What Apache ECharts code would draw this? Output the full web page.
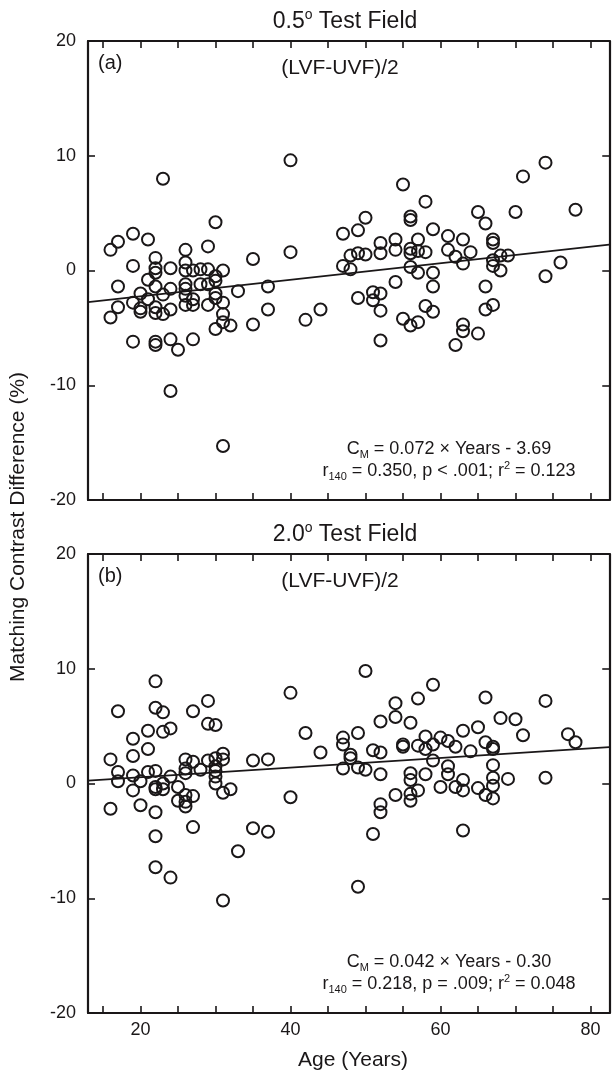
<!DOCTYPE html>
<html>
<head>
<meta charset="utf-8">
<script src="https://cdn.jsdelivr.net/npm/echarts@6/dist/echarts.min.js"></script>
<style>
html,body{margin:0;padding:0;background:#fff;}
#chart{width:612px;height:1074px;}
</style>
</head>
<body>
<div id="chart"></div>
<script>
// ---- Panel (a): 0.5 deg test field ----
const ageA = [23,40,30,16,17,19,21,19,22,22,22,21,24,26,26,26,27,28,29,29,30,30,31,35,40,37,33,17,
  55,58,50,56,56,47,49,59,61,63,65,66,67,67,70,71,74,78,76,74,52,52,54,54,48,49,50,47,48,56,56,57,57,58,56,57,59,59,54,61,62,63,64,67,67,68,69,68,66,66,67,63,63,65,62,58,59,55,56,57,52,51,51,52,49,52,44,42,
  16,17,19,19,20,20,20,21,22,22,22,22,22,23,23,24,24,24,24,25,26,26,26,26,27,27,27,28,29,29,30,30,30,31,31,31,31,32,35,37];
const valA = [8.0,9.6,4.2,1.8,2.5,3.2,2.7,0.4,1.1,0.2,-0.2,-0.8,0.2,1.8,0.7,0,0,0.1,2.1,0.1,-0.5,-0.9,0,1.0,1.6,-1.4,-1.8,-1.4,
  7.5,6.0,4.6,4.7,4.4,3.2,3.5,3.6,3.0,2.7,5.1,4.1,2.7,2.4,5.1,8.2,9.4,5.3,0.7,-0.5,2.4,1.5,2.7,1.8,1.3,1.5,1.4,0.4,0.1,1.9,1.5,2.7,1.7,1.6,0.3,-0.2,-0.2,-1.4,-1.0,1.8,1.2,0.6,1.6,0.9,0.4,1.3,1.3,0.0,-1.4,-3.4,-3.0,-4.7,-5.3,-5.5,-6.5,-3.1,-3.6,-4.2,-4.8,-4.5,-3.5,-1.9,-2.6,-2.0,-2.4,-6.1,-3.4,-4.3,
  -4.1,-3.2,-2.8,-6.2,-2.0,-3.3,-3.6,-2.5,-1.4,-3.2,-3.7,-6.2,-6.5,-2.1,-3.8,-1.6,-3.4,-6.0,-10.5,-6.9,-1.6,-2.2,-3.0,-1.2,-2.5,-3.0,-6.0,-1.2,-1.2,-3.0,-2.0,-2.4,-5.1,-2.8,-3.8,-4.5,-15.3,-4.8,-4.7,-3.4];
// regression line CM = 0.072*Years - 3.69 (end points at axis limits)
const fitA = [[13,-2.754],[82.5,2.25]];

// ---- Panel (b): 2.0 deg test field ----
const ageB = [16,16,17,17,17,19,19,19,19,20,20,21,21,21,22,22,22,22,22,22,22,22,23,23,23,23,24,24,24,25,25,26,26,26,26,26,26,27,27,27,27,28,29,29,29,30,30,30,30,30,30,31,31,31,31,32,33,35,35,37,37,40,40,42,44,
  47,47,47,48,48,49,49,49,50,50,51,51,52,52,52,52,52,54,54,54,55,55,56,56,56,56,56,57,57,57,58,58,58,59,59,59,60,60,61,61,61,62,62,63,63,63,63,64,65,65,66,66,66,67,67,67,67,67,67,68,69,70,71,74,74,77,78];
const valB = [2.1,-2.2,6.3,1.0,0.2,3.9,2.4,0.7,-0.6,-1.9,0.2,4.6,3.0,1.0,8.9,6.6,1.1,-0.3,-0.5,-2.5,-4.6,-7.3,6.2,4.5,0.0,-0.5,4.8,0.6,-8.2,-1.5,-0.3,2.1,1.3,0.9,-1.0,-1.6,-2.0,6.3,1.9,-1.1,-3.8,1.2,7.2,5.2,2.0,5.1,2.2,1.5,1.1,0.6,0,2.6,2.1,-0.8,-10.2,-0.5,-5.9,2.0,-3.9,2.1,-4.2,7.9,-1.2,4.4,2.7,
  4.0,3.4,1.3,2.5,2.2,4.4,1.4,-9.0,9.8,1.2,2.9,-4.4,5.4,2.7,0.8,-1.8,-2.5,7.0,5.8,-1.0,3.2,3.4,5.3,0.9,0.3,-0.9,-1.5,7.4,3.3,-0.6,4.1,3.0,0.8,8.6,3.4,2.0,4.0,-0.3,3.7,1.5,0.8,3.2,-0.3,4.6,0.3,-0.6,-4.1,2.8,4.9,-0.4,7.5,3.6,-1.0,3.2,3.0,1.6,0.5,-0.2,-1.3,5.7,0.4,5.6,4.2,7.2,0.5,4.3,3.6];
// regression line CM = 0.042*Years - 0.30
const fitB = [[13,0.246],[82.5,3.165]];

const xTickValues = [15,20,25,30,35,40,45,50,55,60,65,70,75,80];
const xLabelValues = [20,40,60,80];
const yMin = -20, yMax = 20, yStep = 10;
const xMin = 13, xMax = 82.5;

const INK = '#1a1718';
const FONT = 'Liberation Sans, Arial, Helvetica, sans-serif';

const zip = (a, b) => a.map((v, i) => [v, b[i]]);

const gridLeft = 88, gridWidth = 521.25, gridH = 459;
const grids = [
  {left: gridLeft, top: 41, width: gridWidth, height: gridH},
  {left: gridLeft, top: 554, width: gridWidth, height: gridH}
];

function xAxes(gi, showLabels) {
  const base = {
    type: 'value', gridIndex: gi, min: xMin, max: xMax,
    splitLine: {show: false},
    axisLine: {show: true, onZero: false, lineStyle: {color: INK, width: 2.2}},
    axisTick: {show: true, inside: true, length: 7, customValues: xTickValues, lineStyle: {color: INK, width: 1.6}},
  };
  return [
    Object.assign({}, base, {position: 'bottom',
      axisLabel: showLabels ? {show: true, customValues: xLabelValues, fontSize: 18, color: INK, fontFamily: FONT, margin: 8} : {show: false}}),
    Object.assign({}, base, {position: 'top', axisLabel: {show: false}})
  ];
}
function yAxes(gi) {
  const base = {
    type: 'value', gridIndex: gi, min: yMin, max: yMax, interval: yStep,
    splitLine: {show: false},
    axisLine: {show: true, onZero: false, lineStyle: {color: INK, width: 2.2}},
    axisTick: {show: true, inside: true, length: 7, lineStyle: {color: INK, width: 1.6}},
  };
  return [
    Object.assign({}, base, {position: 'left', axisLabel: {show: true, fontSize: 18, color: INK, fontFamily: FONT, margin: 12}}),
    Object.assign({}, base, {position: 'right', axisLabel: {show: false}})
  ];
}

const scatterStyle = {color: 'rgba(255,255,255,0)', borderColor: INK, borderWidth: 2, opacity: 1};

function scatter(xi, yi, data) {
  return {type: 'scatter', xAxisIndex: xi, yAxisIndex: yi, data: data, symbol: 'circle', symbolSize: 12,
    itemStyle: scatterStyle, silent: true, z: 3};
}
function fitLine(xi, yi, data) {
  return {type: 'line', xAxisIndex: xi, yAxisIndex: yi, data: data, showSymbol: false, silent: true,
    lineStyle: {color: INK, width: 1.8}, z: 2};
}

const richMain = {
  n: {fontSize: 18, fontFamily: FONT, color: INK, lineHeight: 22, verticalAlign: 'middle'},
  sub: {fontSize: 11, fontFamily: FONT, color: INK, lineHeight: 11, verticalAlign: 'bottom'},
  sup: {fontSize: 11, fontFamily: FONT, color: INK, lineHeight: 11, verticalAlign: 'top'}
};
const richTitle = {
  n: {fontSize: 23, fontFamily: FONT, color: INK, lineHeight: 27, verticalAlign: 'middle'},
  sup: {fontSize: 14, fontFamily: FONT, color: INK, lineHeight: 14, verticalAlign: 'top'}
};

function txt(x, y, text, size, align, rich, rot) {
  const s = {text: text, x: 0, y: 0, align: align || 'center', verticalAlign: 'middle', fill: INK,
    fontSize: size, fontFamily: FONT};
  if (rich) s.rich = rich;
  return {type: 'text', x: x, y: y, rotation: rot || 0, style: s, silent: true, z: 10};
}

const panelTitles = ['0.5', '2.0'];
const eqLine1 = ['{n|C}{sub|M}{n| = 0.072 × Years - 3.69}', '{n|C}{sub|M}{n| = 0.042 × Years - 0.30}'];
const eqLine2 = ['{n|r}{sub|140}{n| = 0.350, p < .001; r}{sup|2}{n| = 0.123}', '{n|r}{sub|140}{n| = 0.218, p = .009; r}{sup|2}{n| = 0.048}'];
const panelTags = ['(a)', '(b)'];

const graphics = [];
[0, 1].forEach(i => {
  const top = grids[i].top, bottom = top + gridH;
  graphics.push(txt(345, top - 19, '{n|' + panelTitles[i] + '}{sup|o}{n| Test Field}', 23, 'center', richTitle));
  graphics.push(txt(98, top + 22, panelTags[i], 20, 'left'));
  graphics.push(txt(340, top + 27, '(LVF-UVF)/2', 21, 'center'));
  graphics.push(txt(449, bottom - 51, eqLine1[i], 18, 'center', richMain));
  graphics.push(txt(449, bottom - 29, eqLine2[i], 18, 'center', richMain));
});
graphics.push(txt(353, 1060, 'Age (Years)', 21, 'center'));
graphics.push(txt(18, 527, 'Matching Contrast Difference (%)', 21, 'center', null, Math.PI / 2));

const option = {
  animation: false,
  backgroundColor: '#ffffff',
  grid: grids,
  xAxis: [].concat(xAxes(0, false), xAxes(1, true)),
  yAxis: [].concat(yAxes(0), yAxes(1)),
  series: [
    fitLine(0, 0, fitA),
    scatter(0, 0, zip(ageA, valA)),
    fitLine(2, 2, fitB),
    scatter(2, 2, zip(ageB, valB))
  ],
  graphic: graphics
};

const chart = echarts.init(document.getElementById('chart'), null, {renderer: 'canvas'});
chart.setOption(option);
</script>
</body>
</html>
